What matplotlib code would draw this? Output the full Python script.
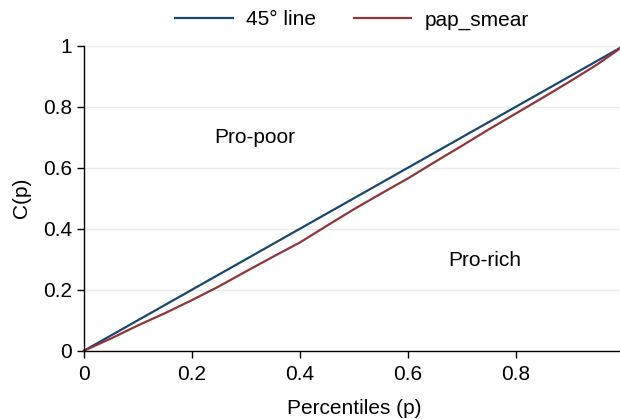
import matplotlib
matplotlib.use("Agg")
import matplotlib.pyplot as plt

plt.rcParams['font.family'] = ['Liberation Sans', 'DejaVu Sans']

# percentile grid and the concentration curve
p = [0, 0.05, 0.1, 0.15, 0.2, 0.25, 0.3, 0.35, 0.4, 0.45, 0.5,
     0.55, 0.6, 0.65, 0.7, 0.75, 0.8, 0.85, 0.9, 0.95, 1.0]
pap_smear = [0, 0.040, 0.083, 0.123, 0.166, 0.211, 0.260, 0.308, 0.355, 0.410, 0.464,
             0.515, 0.565, 0.619, 0.672, 0.726, 0.778, 0.830, 0.883, 0.938, 1.0]
line45 = [0, 1]

blue = '#1a476f'
red = '#90353b'
fs = 15

fig = plt.figure(figsize=(6.2, 4.19), dpi=100)
ax = fig.add_axes([0.1355, 0.163, 0.871, 0.728])

ax.plot(line45, line45, color=blue, lw=1.6, label='45° line', clip_on=False)
ax.plot(p, pap_smear, color=red, lw=1.6, label='pap_smear', clip_on=False)

ax.set_xlim(0, 1)
ax.set_ylim(0, 1)
ticks = [0, 0.2, 0.4, 0.6, 0.8, 1]
labels = ['0', '0.2', '0.4', '0.6', '0.8', '1']
ax.set_xticks(ticks)
ax.set_xticklabels(labels)
ax.set_yticks(ticks)
ax.set_yticklabels(labels)
ax.tick_params(axis='both', labelsize=fs, length=5, width=1, direction='out')
ax.tick_params(axis='x', pad=5)
ax.tick_params(axis='y', pad=3.5)
ax.grid(axis='y', color='#eaeaea', lw=1)
ax.set_axisbelow(True)

for s in ['top', 'right']:
    ax.spines[s].set_visible(False)
for s in ['left', 'bottom']:
    ax.spines[s].set_linewidth(1)

ax.set_xlabel('Percentiles (p)', fontsize=fs, labelpad=11)
ax.set_ylabel('C(p)', fontsize=fs, labelpad=9)

ax.text(0.317, 0.70, 'Pro-poor', fontsize=fs, ha='center', va='center')
ax.text(0.743, 0.297, 'Pro-rich', fontsize=fs, ha='center', va='center')

fig.legend(loc='center', bbox_to_anchor=(0.568, 0.952), ncol=2, frameon=False,
           fontsize=fs, handlelength=2.74, handletextpad=0.67, columnspacing=1.78)

fig.savefig('out.png', dpi=100)
